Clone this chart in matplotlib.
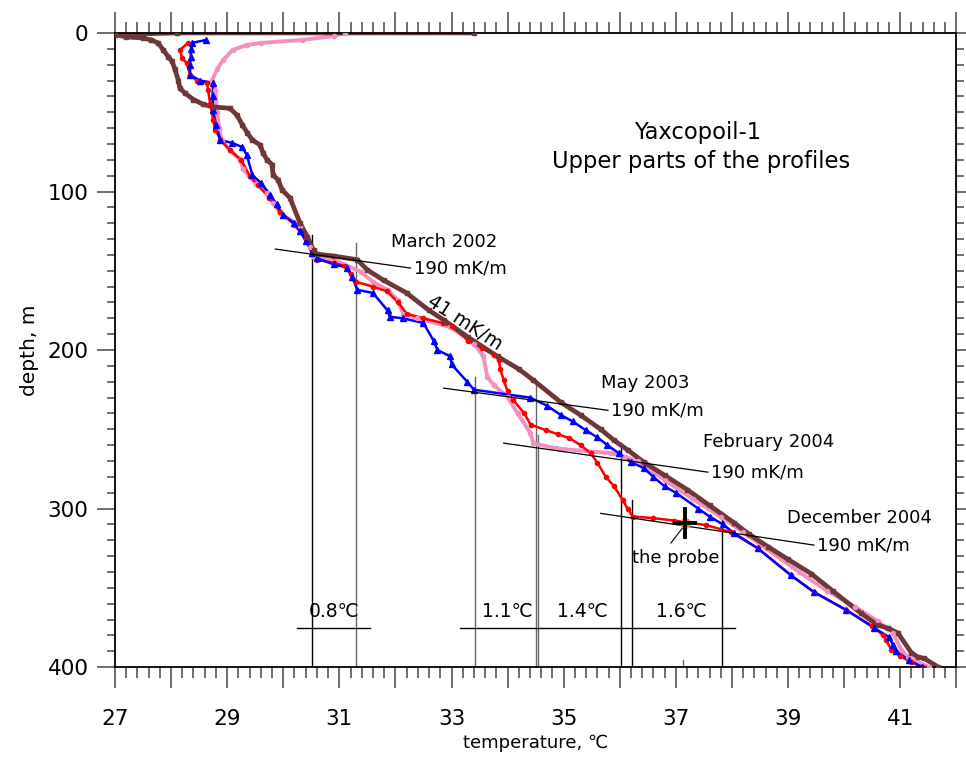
import numpy as np
import matplotlib
matplotlib.use("Agg")
import matplotlib.pyplot as plt
from matplotlib.ticker import MultipleLocator, FuncFormatter

plt.rcParams['font.family'] = ['DejaVu Sans']

# March 2002 (brown)
mar02_t = [33.4, 28.1, 27.0, 27.2, 27.5, 27.65, 27.77, 27.86, 27.95, 28.02, 28.07, 28.13,
           28.16, 28.25, 28.4, 28.57, 28.75, 29.05, 29.18, 29.27, 29.36, 29.45, 29.59, 29.64,
           29.71, 29.8, 29.82, 29.91, 29.98, 30.12, 30.3, 30.43, 30.54, 30.6, 30.9, 31.32,
           31.5, 31.79, 32.2, 32.6, 32.86, 33.3, 33.82, 34.2, 34.46, 34.95, 35.3, 35.66,
           35.9, 36.14, 36.43, 36.8, 37.2, 37.6, 38.04, 38.3, 38.64, 39.0, 39.41, 39.8,
           40.3, 40.6, 40.79, 40.96, 41.2, 41.32, 41.43, 41.68]
mar02_d = [0, 0, 1, 2.5, 3.2, 4.5, 6.3, 10.7, 15, 18, 23, 30,
           35, 38, 42, 45, 46.7, 47.5, 52, 58, 63, 67.5, 70.7, 75.7,
           80, 83, 89.6, 92.7, 99, 104, 120, 128.5, 137, 139.5, 140.7, 143,
           149.5, 156, 164, 175, 181, 192, 204, 212, 219, 233, 241, 250,
           257, 263, 270.7, 279, 288, 298, 309, 316, 324, 332, 341, 352,
           366, 373.5, 375.5, 378.5, 391, 393.7, 394.5, 400]

# May 2003 (blue)
may03_t = [28.63, 28.37, 28.36, 28.35, 28.34, 28.34, 28.52, 28.75, 28.74, 28.75, 28.8, 28.88,
           29.09, 29.27, 29.35, 29.45, 29.6, 29.77, 29.88, 30.0, 30.2, 30.3, 30.4, 30.52,
           30.6, 30.9, 31.14, 31.23, 31.32, 31.6, 31.86, 31.9, 32.14, 32.5, 32.68, 32.75,
           32.98, 33.0, 33.28, 33.4, 34.4, 34.7, 34.95, 35.16, 35.39, 35.6, 35.78, 35.98,
           36.2, 36.43, 36.6, 36.8, 37.0, 37.4, 37.6, 37.84, 38.04, 38.46, 39.05, 39.46,
           40.04, 40.54, 40.8, 40.87, 40.93, 41.16, 41.39]
may03_d = [4.4, 6.3, 10, 15, 20, 26.5, 30, 31.5, 40, 48.6, 58, 67.5,
           69.4, 72, 77, 89.6, 94.6, 102, 108, 115, 120, 125, 131, 139,
           142, 146, 148, 154, 162, 164, 175, 179, 180, 183, 194, 200,
           204, 209, 220, 225, 230, 235, 241, 245, 250.5, 255, 260, 265,
           270.6, 274.5, 280, 286, 290, 300, 305, 310, 315.5, 325, 342, 352.6,
           364, 375.4, 381, 386, 390, 395.6, 400]

# February 2004 (pink)
feb04_t = [31.1, 30.9, 30.34, 29.6, 29.35, 29.1, 28.93, 28.82, 28.73, 28.79, 28.82, 28.86,
           28.9, 29.05, 29.23, 29.29, 29.41, 29.52, 29.71, 29.82, 29.95, 30.3, 30.43, 30.48,
           30.54, 30.9, 31.38, 31.6, 31.86, 32.04, 32.14, 32.39, 32.98, 33.4, 33.57, 33.64,
           33.75, 34.0, 34.18, 34.4, 34.46, 34.86, 35.48, 35.84, 36.1, 36.32, 36.8, 37.3,
           37.8, 38.2, 38.6, 39.2, 39.7, 40.2, 40.6, 40.87, 41.02, 41.14, 41.52]
feb04_d = [0, 2, 4.4, 6.3, 7.6, 10.7, 17, 23, 30, 36, 50, 60,
           67.5, 74, 80, 86, 91, 95, 101, 107, 113.6, 122, 128.5, 135,
           141, 143, 150.6, 157, 162, 168.5, 177, 180, 185.5, 196, 204, 217,
           222, 229.6, 240, 252, 258.7, 262, 264, 265, 267.5, 270, 282, 294,
           305, 315, 325, 340, 352, 362, 371, 378.5, 389, 393.7, 400]

# December 2004 (red)
dec04_t = [28.3, 28.16, 28.2, 28.28, 28.34, 28.46, 28.64, 28.66, 28.7, 28.75, 28.79, 28.88,
           29.05, 29.25, 29.4, 29.55, 29.75, 29.95, 30.2, 30.4, 30.52, 30.6, 30.9, 31.1,
           31.2, 31.3, 31.6, 31.85, 32.05, 32.2, 32.5, 32.85, 33.0, 33.3, 33.55, 33.75,
           33.84, 33.87, 33.93, 34.0, 34.1, 34.3, 34.41, 34.68, 34.89, 35.1, 35.3, 35.48,
           35.6, 35.75, 35.9, 36.05, 36.14, 36.23, 36.6, 36.96, 37.54, 37.98, 38.46, 39.05,
           39.46, 40.04, 40.5, 40.7, 40.75, 40.84, 41.0, 41.2, 41.41]
dec04_d = [6.3, 10.7, 16, 19, 26.5, 30, 31.5, 36, 45, 55, 61, 67.5,
           74, 80, 90, 96, 104, 113, 121, 130, 139, 143, 145, 147,
           152, 157, 160, 163, 170, 177, 180, 183, 185, 194, 199, 203,
           206, 212, 219, 226, 231.5, 240, 247, 250.5, 253, 255.5, 260, 265,
           271, 280, 286, 294.6, 300, 305, 306, 307.5, 310.4, 314.8, 325, 342,
           352.6, 364, 374, 380, 383, 389, 393, 397, 400]

# 190 mK/m gradient lines: (T0, T1), (d0, d1)
grad_lines = [((29.86, 32.27), (136.3, 148.3)),
              ((32.86, 35.79), (224, 238)),
              ((33.93, 37.57), (258.7, 277)),
              ((35.66, 39.46), (303, 323))]
grad_names = ["March 2002", "May 2003", "February 2004", "December 2004"]
grad_name_t = [32.86, 36.46, 38.66, 40.27]
grad_name_d = [132, 221, 258, 306]

# vertical markers of the jumps
vert_t = [30.52, 31.30, 33.41, 34.50, 34.55, 36.02, 36.21, 37.82]
vert_top = [127.5, 132.5, 217, 219, 253.6, 258.7, 294.6, 302]
vert_col = ['black', '#666666', '#666666', '#666666', '#666666', 'black', 'black', 'black']

jump_labels = ["0.8\u2103", "1.1\u2103", "1.4\u2103", "1.6\u2103"]
jump_label_t = [30.9, 34.0, 35.34, 37.09]

probe_t = 37.16
probe_d = 309


def main():
    fig = plt.figure(figsize=(9.66, 7.66), dpi=100)
    ax = fig.add_axes([0.119, 0.129, 0.871, 0.828])

    series = [
        (feb04_t, feb04_d, '#F58FBF', 'o', 3.0, 2.8),
        (dec04_t, dec04_d, '#FF0000', 'o', 3.0, 1.8),
        (may03_t, may03_d, '#0000FF', '^', 4.5, 1.8),
        (mar02_t, mar02_d, '#6E3838', 's', 3.0, 3.4),
    ]
    for t, d, c, m, ms, lw in series:
        ax.plot(t, d, color='black', lw=0.7, zorder=2)
        ax.plot(t, d, color=c, lw=lw, zorder=2, solid_capstyle='butt')
        ax.plot(t, d, ls='none', marker=m, ms=ms, color=c, mec=c, zorder=3)

    # gradient lines and labels
    for (tt, dd), name, nt, nd in zip(grad_lines, grad_names, grad_name_t, grad_name_d):
        ax.plot(tt, dd, color='black', lw=0.9, zorder=4)
        ax.text(tt[1] + 0.06, dd[1], "190 mK/m", fontsize=13, ha='left', va='center')
        ax.text(nt, nd, name, fontsize=13, ha='center', va='center')

    ax.text(33.23, 183, "41 mK/m", fontsize=13.5, rotation=-33, rotation_mode='anchor',
            ha='center', va='center')

    for x, top, c in zip(vert_t, vert_top, vert_col):
        ax.plot([x, x], [top, 400], color=c, lw=1.0, zorder=1)
    ax.plot([30.25, 31.54], [375.5, 375.5], color='black', lw=1.0)
    ax.plot([33.16, 38.05], [375.5, 375.5], color='black', lw=1.0)
    for lab, x in zip(jump_labels, jump_label_t):
        ax.text(x, 365, lab, fontsize=13.5, ha='center', va='center')
    ax.plot([37.13, 37.13], [395.6, 400], color='#666666', lw=1.0)

    # the probe
    ax.plot([probe_t], [probe_d], 'o', color='#FF8C1A', ms=7, zorder=5)
    ax.plot([probe_t, probe_t], [probe_d - 8.8, probe_d + 8.8], color='black', lw=2.8, zorder=6)
    ax.plot([probe_t - 0.18, probe_t + 0.18], [probe_d, probe_d], color='black', lw=2.8, zorder=6)
    ax.plot([36.91, 37.13], [321.7, 311.7], color='black', lw=0.8)
    ax.text(37.0, 331, "the probe", fontsize=13, ha='center', va='center')

    ax.text(37.39, 62.5, "Yaxcopoil-1", fontsize=16.3, ha='center', va='center')
    ax.text(37.45, 81, "Upper parts of the profiles", fontsize=16.3, ha='center', va='center')

    ax.set_xlim(27, 42)
    ax.set_ylim(400, 0)
    ax.xaxis.set_major_locator(MultipleLocator(1))
    ax.xaxis.set_minor_locator(MultipleLocator(0.2))
    ax.xaxis.set_major_formatter(FuncFormatter(lambda v, p: "%d" % round(v) if round(v) % 2 == 1 else ""))
    ax.yaxis.set_major_locator(MultipleLocator(100))
    ax.yaxis.set_minor_locator(MultipleLocator(10))
    ax.tick_params(which='both', direction='out', top=True, right=True, color='#555555', width=1.2)
    ax.tick_params(axis='x', which='major', length=15, labelsize=15.5, pad=15)
    ax.tick_params(axis='x', which='minor', length=8)
    ax.tick_params(axis='y', which='major', length=13, labelsize=15.5, pad=6)
    ax.tick_params(axis='y', which='minor', length=6)
    for s in ax.spines.values():
        s.set_linewidth(1.3)

    ax.set_xlabel("temperature, \u2103", fontsize=13, labelpad=4)
    ax.set_ylabel("depth, m", fontsize=14.5, labelpad=6)

    fig.savefig("out.png", dpi=100)


if __name__ == '__main__':
    main()
